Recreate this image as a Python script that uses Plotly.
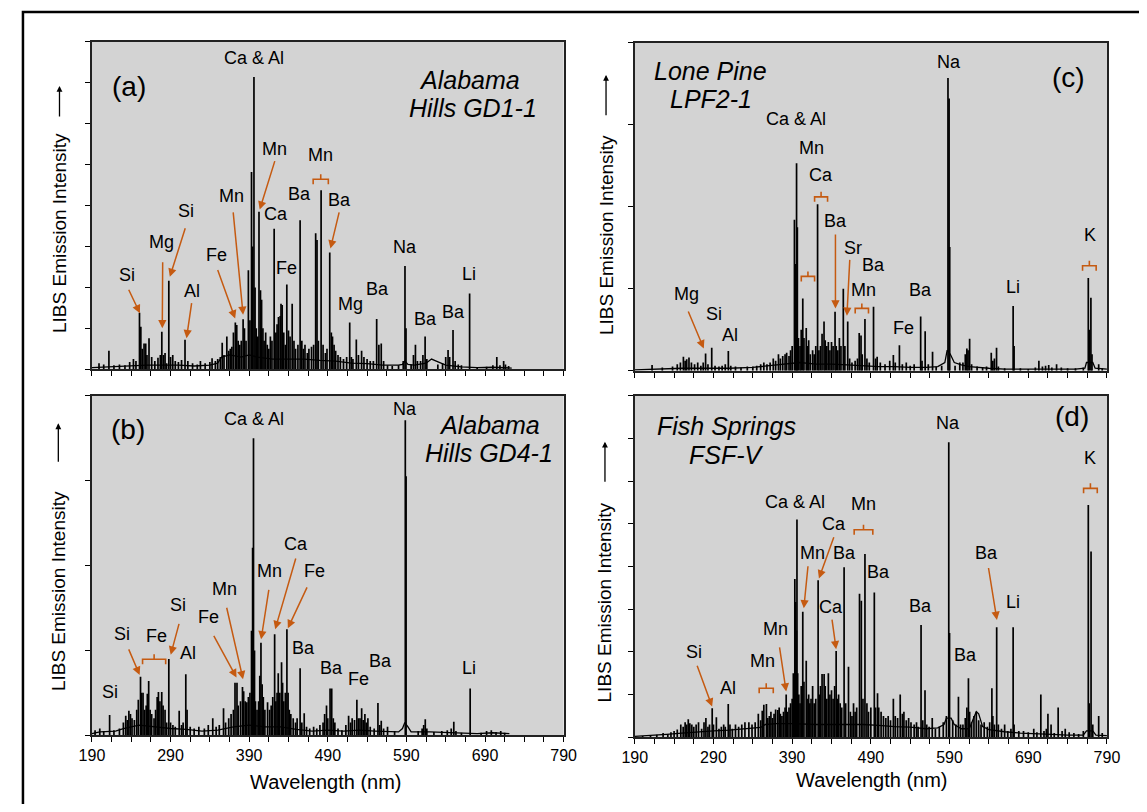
import plotly.graph_objects as go

FONT = "Liberation Sans, Arial, sans-serif"
ORANGE = "#c55a11"
VW, VH = 1147, 812          # browser window
OFF = 8                     # default body margin of the html page
W, H = VW - 2 * OFF, VH - 2 * OFF   # figure size so that the page never overflows the window

# ---------------- Panel (a) Alabama Hills GD1-1 ----------------
a_peaks = [(199, 0.15), (205, 0.12), (211.6, 0.45), (218, 0.1), (225, 0.12), (232, 0.1), (238, 0.18),
           (242.8, 0.25), (246, 0.2), (250.5, 1.38), (252.2, 1.04), (254, 0.5), (256.3, 0.63), (258.4, 0.63),
           (260, 0.35), (262.6, 0.76), (266, 0.3), (270, 0.2), (274, 0.28), (277, 0.35), (278.9, 0.92),
           (281, 0.35), (283, 0.4), (285, 0.15), (287.8, 2.16), (290, 0.3), (292.8, 0.35), (296, 0.2),
           (300, 0.18), (304, 0.23), (308.4, 0.72), (312, 0.2), (318, 0.15), (324, 0.12), (328, 0.2),
           (334, 0.15), (340, 0.18), (342.8, 0.27), (347, 0.2), (350, 0.25), (353.3, 0.3), (355.7, 0.65),
           (358, 0.35), (361.6, 0.8), (364, 0.45), (366, 0.5), (368, 0.55), (370, 0.9), (372.4, 1.14),
           (374.2, 1.08), (376, 0.7), (378, 0.6), (380, 0.7), (382.3, 1.22), (384, 1.0), (386, 0.7),
           (389, 2.42), (391, 1.2), (393, 4.82), (394.4, 3.0), (396.1, 7.14), (397.5, 2.0), (399, 1.0),
           (401, 0.8), (402.5, 3.85), (404.4, 1.93), (405.8, 1.7), (407.5, 1.0), (409, 0.7), (411, 0.9),
           (413, 0.6), (415, 0.5), (417, 0.8), (419, 0.7), (421.8, 3.43), (424, 0.9), (425.5, 1.1),
           (427.3, 1.28), (429.4, 1.3), (430.5, 1.6), (432, 1.57), (434, 0.9), (436, 0.6), (437.9, 2.07),
           (440, 0.95), (442, 0.8), (444.7, 1.6), (447, 0.7), (449, 0.5), (452, 0.6), (454.8, 3.64),
           (457, 0.7), (459, 0.5), (461, 0.6), (464, 0.4), (466, 0.5), (469.3, 0.55), (472, 0.6),
           (474.6, 3.32), (476.3, 3.16), (478, 0.7), (481.5, 4.37), (484, 0.6), (487, 0.4), (489, 0.5),
           (492.5, 2.85), (494.5, 0.9), (496, 0.8), (498, 0.6), (500, 0.45), (503, 0.35), (506, 0.3),
           (510, 0.25), (514, 0.3), (517.9, 1.14), (520, 0.3), (522, 0.25), (526.3, 0.73), (529, 0.35),
           (533, 0.45), (536, 0.3), (540, 0.25), (544, 0.2), (548, 0.2), (552.2, 1.23), (555, 0.6),
           (558, 0.63), (561, 0.2), (566, 0.1), (572, 0.08), (580, 0.1), (586, 0.2), (588.2, 2.52),
           (589.5, 1.0), (596, 0.12), (599, 0.35), (601.5, 0.6), (604, 0.2), (608, 0.2), (611, 0.35),
           (613.8, 0.8), (616, 0.25), (630, 0.12), (636, 0.15), (640, 0.3), (643, 0.47), (645, 0.3),
           (649.3, 0.96), (652, 0.2), (656, 0.12), (660, 0.1), (670.4, 1.85), (680, 0.05), (692, 0.06),
           (700, 0.1), (705, 0.3), (709, 0.1), (713.7, 0.2), (716, 0.12), (720, 0.08)]
a_base = [(190, 0.04), (200, 0.05), (220, 0.06), (240, 0.08), (260, 0.1), (280, 0.1), (300, 0.1),
          (320, 0.08), (340, 0.1), (350, 0.15), (355, 0.3), (365, 0.35), (380, 0.3), (390, 0.35),
          (400, 0.3), (420, 0.25), (440, 0.25), (460, 0.25), (480, 0.22), (500, 0.2), (520, 0.15),
          (540, 0.14), (560, 0.1), (580, 0.1), (585, 0.12), (588, 0.2), (592, 0.12), (600, 0.1),
          (615, 0.15), (622, 0.25), (628, 0.2), (640, 0.1), (660, 0.06), (680, 0.04), (700, 0.05),
          (720, 0.04), (724, 0.03)]
a_labels = [("Ca & Al", 396.6, 7.61), ("Mn", 422.7, 5.39), ("Mn", 480.6, 5.23), ("Ba", 454.4, 4.29),
            ("Ba", 505.3, 4.13), ("Ca", 424, 3.8), ("Fe", 437.9, 2.48), ("Mn", 368.1, 4.23),
            ("Fe", 347.9, 2.8), ("Si", 309.3, 3.87), ("Mg", 279, 3.11), ("Si", 234, 2.3),
            ("Al", 317.1, 1.92), ("Mg", 518.6, 1.59), ("Ba", 553.5, 1.95), ("Na", 588, 2.99),
            ("Ba", 613.7, 1.24), ("Ba", 649.5, 1.41), ("Li", 670.1, 2.33)]
a_arrows = [(403.4, 3.9, 423.2, 5.12), (493.4, 2.95, 504.9, 3.87), (382.3, 1.33, 369.5, 3.87),
            (372.2, 1.24, 349.3, 2.46), (289.1, 2.26, 309.3, 3.48), (279.5, 1.0, 280, 2.65),
            (251, 1.37, 235.9, 1.98), (310.3, 0.76, 317.1, 1.65)]
a_brackets = [(471.4, 490.7, 4.64)]
a_name = [("Alabama", 670.6, 7.07), ("Hills GD1-1", 674.7, 6.37)]
a_tag = ("(a)", 236.8, 6.91)

# ---------------- Panel (b) Alabama Hills GD4-1 ----------------
b_peaks = [(194, 0.06), (200, 0.08), (205, 0.05), (212.5, 0.24), (218, 0.06), (225, 0.08), (230, 0.15),
           (233, 0.23), (235, 0.18), (237, 0.29), (239, 0.25), (241, 0.2), (244, 0.18), (247, 0.3),
           (249, 0.42), (251.8, 0.69), (253, 0.5), (255, 0.5), (257, 0.3), (259, 0.35), (260.5, 0.49),
           (262.2, 0.64), (264, 0.3), (266, 0.25), (269, 0.2), (271, 0.3), (273, 0.45), (274.6, 0.51),
           (276.5, 0.4), (278.8, 0.51), (280.5, 0.35), (283, 0.3), (285, 0.15), (287.8, 0.9), (290, 0.15),
           (293, 0.12), (296, 0.1), (301, 0.29), (304, 0.12), (306, 0.15), (309.4, 0.72), (311, 0.3),
           (315, 0.1), (320, 0.08), (326, 0.1), (333, 0.08), (338, 0.12), (343.7, 0.2), (348, 0.1),
           (352, 0.12), (357.4, 0.32), (360, 0.15), (364, 0.2), (367, 0.25), (370, 0.3), (372, 0.62),
           (374.5, 0.62), (376, 0.35), (379, 0.4), (381.5, 0.57), (383, 0.52), (385, 0.4), (387, 0.39),
           (389, 0.45), (391, 0.5), (393, 1.23), (394.4, 2.21), (395.5, 3.5), (396.8, 1.0), (398, 0.4),
           (400, 0.3), (402, 0.4), (403.5, 0.7), (405, 1.09), (406.5, 0.6), (408, 0.45), (410, 0.3),
           (413.4, 0.39), (416, 0.3), (418, 0.35), (420, 0.45), (422.4, 1.19), (424, 0.4), (425.5, 0.5),
           (427, 0.73), (429, 0.5), (431.2, 0.86), (432.5, 0.62), (434, 0.4), (436, 0.5), (438, 1.25),
           (439.5, 0.5), (441, 0.3), (443, 0.25), (446, 0.2), (449, 0.15), (451, 0.2), (454.8, 0.79),
           (457, 0.15), (460, 0.26), (463, 0.1), (467, 0.08), (472, 0.1), (476, 0.08), (480, 0.12),
           (484, 0.15), (486, 0.25), (488.4, 0.35), (490, 0.2), (492.9, 0.55), (495, 0.55), (497, 0.2),
           (499, 0.15), (503, 0.08), (508, 0.06), (513, 0.12), (516.5, 0.23), (519, 0.15), (521, 0.2),
           (524, 0.18), (527, 0.42), (529, 0.2), (531, 0.2), (533.1, 0.32), (535, 0.18), (537.2, 0.25),
           (539, 0.15), (541, 0.2), (544, 0.1), (549, 0.08), (553.8, 0.38), (556, 0.12), (558, 0.17),
           (561, 0.08), (566, 0.1), (575, 0.05), (588.6, 3.71), (589.6, 3.05), (605, 0.05), (610, 0.08),
           (612, 0.12), (614, 0.19), (616, 0.08), (625, 0.04), (635, 0.05), (642, 0.06), (647, 0.08),
           (650.3, 0.16), (653, 0.05), (660, 0.03), (671.1, 0.55), (685, 0.03), (692, 0.05), (698, 0.06),
           (704, 0.04), (710, 0.05), (715, 0.03)]
b_base = [(190, 0.02), (200, 0.04), (220, 0.05), (230, 0.08), (250, 0.12), (270, 0.1), (290, 0.08),
          (310, 0.07), (330, 0.05), (350, 0.06), (370, 0.1), (390, 0.12), (410, 0.1), (430, 0.1),
          (450, 0.07), (470, 0.05), (490, 0.06), (510, 0.05), (530, 0.06), (550, 0.05), (570, 0.04),
          (580, 0.04), (585, 0.08), (588, 0.15), (592, 0.1), (596, 0.04), (620, 0.04), (650, 0.03),
          (680, 0.02), (700, 0.03), (721, 0.02)]
b_labels = [("Ca & Al", 396, 3.73), ("Na", 587.7, 3.84), ("Ca", 449.3, 2.25), ("Fe", 473.2, 1.93),
            ("Mn", 415.8, 1.93), ("Mn", 359.2, 1.72), ("Fe", 338, 1.39), ("Ba", 459, 1.03),
            ("Ba", 494.4, 0.79), ("Fe", 528.9, 0.66), ("Ba", 556.9, 0.88), ("Li", 669.1, 0.79),
            ("Si", 299.9, 1.53), ("Al", 312.8, 0.97), ("Si", 228.6, 1.19), ("Fe", 271.8, 1.17),
            ("Si", 213, 0.51)]
b_arrows = [(423.1, 1.25, 449.8, 2.1), (439.2, 1.26, 464.5, 1.76), (405.2, 1.13, 415.3, 1.73),
            (382.2, 0.66, 361, 1.52), (373.9, 0.68, 344, 1.19), (290.2, 0.95, 301.3, 1.33),
            (250.7, 0.71, 236, 1.03)]
b_brackets = [(254.4, 283.8, 0.895)]
b_name = [("Alabama", 696.2, 3.66), ("Hills GD4-1", 695.3, 3.33)]
b_tag = ("(b)", 236, 3.6)

# ---------------- Panel (c) Lone Pine LPF2-1 ----------------
c_peaks = [(212, 0.07), (225, 0.04), (238, 0.05), (244, 0.08), (248, 0.1), (251.8, 0.17), (254, 0.12),
           (256, 0.14), (258.9, 0.16), (262, 0.1), (266, 0.08), (270, 0.1), (274, 0.06), (277, 0.1),
           (280, 0.21), (283, 0.08), (287.8, 0.28), (292, 0.06), (297, 0.05), (301, 0.06), (305, 0.08),
           (308.9, 0.24), (312, 0.06), (318, 0.05), (325, 0.04), (333, 0.05), (340, 0.05), (345, 0.06),
           (350, 0.08), (354, 0.1), (358, 0.08), (362, 0.1), (366, 0.15), (369, 0.12), (372.6, 0.2),
           (375, 0.15), (378, 0.18), (381, 0.2), (383, 0.22), (386, 0.18), (388, 0.25), (390, 0.3),
           (392.9, 1.84), (394.4, 1.3), (395.6, 2.53), (396.6, 1.75), (398, 0.4), (400, 0.3), (401.5, 0.5),
           (403.5, 0.88), (405, 0.4), (407.9, 0.52), (409.5, 0.3), (411, 0.37), (413, 0.2), (416, 0.25),
           (418, 0.2), (420, 0.3), (422.3, 2.03), (424, 0.25), (426, 0.3), (428, 0.45), (430.5, 0.6),
           (432, 0.37), (434, 0.3), (436, 0.35), (438, 0.25), (440, 0.35), (442, 0.3), (444.5, 0.72),
           (446, 0.3), (448, 0.25), (450, 0.4), (452, 0.3), (455, 1.0), (457, 0.3), (460.6, 0.6),
           (463, 0.15), (466, 0.1), (470, 0.12), (473, 0.15), (475.2, 0.46), (477.5, 0.43), (479, 0.2),
           (482.5, 0.63), (485, 0.15), (488, 0.1), (493.4, 0.78), (496, 0.15), (498, 0.17), (502, 0.1),
           (508, 0.08), (514, 0.12), (518.6, 0.19), (521, 0.1), (526.3, 0.31), (530, 0.08), (535, 0.1),
           (540, 0.06), (545, 0.08), (553.3, 0.66), (555, 0.12), (559, 0.48), (563, 0.08), (568.4, 0.23),
           (573, 0.05), (580, 0.06), (588, 3.57), (589.4, 3.32), (590.2, 1.51), (597, 0.06), (603, 0.1),
           (607, 0.1), (610, 0.2), (612, 0.27), (613.5, 0.25), (615.5, 0.39), (618, 0.08), (625, 0.05),
           (632, 0.04), (637, 0.05), (643, 0.22), (645, 0.12), (647, 0.15), (649.7, 0.28), (652, 0.05),
           (660, 0.03), (670.8, 0.79), (672, 0.3), (680, 0.03), (690, 0.02), (699, 0.04), (703.5, 0.12),
           (708, 0.05), (712, 0.06), (716, 0.07), (720, 0.04), (726, 0.08), (732, 0.04), (740, 0.03),
           (750, 0.03), (760, 0.04), (766.3, 1.13), (767.5, 0.5), (769.6, 0.89), (771, 0.2),
           (779.5, 0.08), (784, 0.03)]
c_base = [(190, 0.01), (220, 0.02), (250, 0.03), (280, 0.03), (310, 0.03), (340, 0.04), (360, 0.06),
          (380, 0.08), (400, 0.1), (420, 0.08), (440, 0.08), (460, 0.07), (480, 0.06), (500, 0.05),
          (520, 0.05), (540, 0.04), (560, 0.04), (575, 0.05), (584, 0.1), (587, 0.25), (591, 0.2),
          (596, 0.1), (605, 0.07), (615, 0.05), (640, 0.03), (660, 0.02), (680, 0.02), (700, 0.02),
          (720, 0.02), (750, 0.02), (762, 0.03), (764, 0.1), (772, 0.1), (775, 0.03), (790, 0.02)]
c_labels = [("Na", 589.9, 3.76), ("Ca & Al", 394.7, 3.07), ("Mn", 414.8, 2.72), ("Ca", 426.7, 2.39),
            ("Ba", 445, 1.82), ("Sr", 467.4, 1.5), ("Ba", 493.9, 1.29), ("Mn", 480.2, 0.98),
            ("Fe", 530.9, 0.52), ("Ba", 553.3, 0.99), ("Li", 670.8, 1.02), ("K", 768.1, 1.65),
            ("Mg", 256.3, 0.94), ("Si", 290.5, 0.69), ("Al", 311.6, 0.43)]
c_arrows = [(445, 0.76, 445, 1.68), (459.6, 0.67, 463.3, 1.37), (277.7, 0.27, 257.2, 0.74)]
c_brackets = [(418.5, 435, 2.12), (401.6, 418.5, 1.15), (470.1, 487, 0.76), (759, 776.3, 1.28)]
c_name = [("Lone Pine", 286.4, 3.65), ("LPF2-1", 286.9, 3.31)]
c_tag = ("(c)", 740.7, 3.58)

# ---------------- Panel (d) Fish Springs FSF-V ----------------
d_peaks = [(200, 0.03), (210, 0.05), (218, 0.06), (226, 0.1), (232, 0.08), (236, 0.12), (240, 0.15),
           (244, 0.18), (248.5, 0.3), (251.5, 0.25), (254, 0.35), (256, 0.3), (258, 0.42), (260, 0.33),
           (262.5, 0.3), (265, 0.25), (268, 0.3), (271, 0.35), (275, 0.2), (278, 0.35), (280.4, 0.45),
           (283, 0.25), (285, 0.3), (288.4, 0.68), (290, 0.3), (293.7, 0.47), (297, 0.2), (300, 0.25),
           (303, 0.3), (305, 0.25), (308.8, 0.78), (311, 0.3), (314, 0.2), (318, 0.3), (322, 0.25),
           (326, 0.3), (330, 0.35), (335, 0.35), (339, 0.3), (343, 0.35), (347, 0.55), (350, 0.4),
           (352, 0.62), (354, 0.76), (357.3, 0.78), (359, 0.45), (361, 0.5), (363, 0.6), (365, 0.45),
           (367, 0.55), (369, 0.65), (371.8, 0.64), (373.5, 0.7), (375, 0.55), (377, 0.5), (379, 0.6),
           (381, 0.7), (382.4, 1.0), (384, 0.6), (386, 0.7), (388, 0.8), (390, 0.9), (391.5, 1.5),
           (393.4, 3.71), (394.4, 3.17), (395.5, 2.5), (396.1, 5.1), (397, 1.5), (398.5, 1.0), (400, 0.8),
           (401.5, 1.2), (403.5, 2.94), (405, 1.3), (407.9, 1.79), (409, 0.9), (411, 1.0), (412.5, 0.8),
           (414, 0.9), (416, 1.2), (418, 0.8), (420, 0.9), (423, 3.68), (424.5, 1.0), (426, 1.2),
           (428, 1.48), (430.6, 1.48), (432, 1.2), (434, 0.9), (436, 1.5), (438, 1.0), (440, 1.1),
           (442, 0.9), (444, 1.2), (445.9, 2.02), (447.5, 0.9), (449, 1.0), (451, 0.8), (453, 0.7),
           (456, 3.98), (458, 0.8), (461.6, 1.65), (464, 0.6), (466, 0.5), (468, 0.8), (470, 0.6),
           (472, 0.7), (475.6, 3.36), (477.9, 3.2), (480, 0.9), (482.5, 4.29), (485, 0.8), (487, 0.6),
           (490, 0.7), (494.4, 3.39), (496, 0.7), (498.5, 1.03), (500, 0.7), (503, 0.6), (506, 0.5),
           (509, 0.45), (512, 0.5), (515, 0.4), (518.6, 0.9), (521, 0.5), (524, 0.45), (527.3, 1.0),
           (530, 0.55), (532, 0.6), (535, 0.4), (538, 0.45), (541, 0.35), (545, 0.3), (548, 0.35),
           (550, 0.25), (553.8, 2.63), (556, 0.4), (558.8, 1.1), (561, 0.3), (564, 0.25), (568, 0.45),
           (572, 0.2), (577, 0.25), (582, 0.35), (586, 0.5), (589, 6.91), (590, 2.44), (594, 0.4),
           (598, 0.3), (601.3, 0.95), (604, 0.3), (607, 0.3), (610, 0.45), (612, 0.7), (614, 1.38),
           (615.5, 0.6), (618, 0.35), (621, 0.5), (624, 0.6), (627, 0.4), (630, 0.3), (634, 0.35),
           (638, 0.25), (641, 0.35), (643.8, 1.15), (645, 0.5), (647, 0.3), (649.9, 2.58), (652, 0.3),
           (656, 0.2), (660, 0.3), (664, 0.15), (668, 0.2), (670.8, 2.58), (672, 0.3), (678, 0.15),
           (684, 0.15), (690, 0.12), (697, 0.2), (701, 0.12), (706, 1.0), (710, 0.15), (713, 0.2),
           (715, 0.55), (719, 0.3), (723, 0.1), (728, 0.7), (733, 0.15), (737, 0.2), (742, 0.12),
           (748, 0.1), (754, 0.08), (760, 0.15), (766.3, 5.44), (767.5, 0.8), (769.8, 4.35), (772, 0.3),
           (779.5, 0.5), (784, 0.1)]
d_base = [(190, 0.02), (210, 0.04), (230, 0.07), (250, 0.1), (270, 0.13), (290, 0.15), (310, 0.17),
          (330, 0.2), (350, 0.23), (356, 0.3), (370, 0.32), (390, 0.32), (420, 0.3), (450, 0.3),
          (480, 0.3), (500, 0.28), (520, 0.25), (540, 0.24), (560, 0.2), (575, 0.22), (583, 0.3),
          (586, 0.45), (592, 0.45), (596, 0.3), (605, 0.2), (615, 0.2), (620, 0.45), (624, 0.6),
          (627, 0.55), (632, 0.25), (640, 0.18), (660, 0.13), (680, 0.1), (700, 0.09), (720, 0.07),
          (740, 0.05), (760, 0.05), (764, 0.15), (772, 0.15), (776, 0.05), (790, 0.04)]
d_labels = [("Na", 588.5, 7.37), ("K", 768.1, 6.53), ("Ca & Al", 393.4, 5.52), ("Mn", 480.2, 5.46),
            ("Ca", 443.6, 5.0), ("Mn", 416.2, 4.31), ("Ba", 456.4, 4.31), ("Ba", 499.8, 3.86),
            ("Ca", 439.1, 3.06), ("Mn", 368.7, 2.54), ("Mn", 352.7, 1.79), ("Si", 265.9, 2.0),
            ("Al", 308.8, 1.15), ("Ba", 553.3, 3.08), ("Ba", 610.9, 1.93), ("Ba", 636.9, 4.32),
            ("Li", 671.2, 3.18)]
d_arrows = [(424, 3.72, 443.6, 4.72), (404.8, 3.02, 410.3, 4.04), (445.9, 2.06, 440.4, 2.79),
            (382.4, 1.07, 373.7, 2.14), (288.3, 0.72, 268.6, 1.71), (650.2, 2.75, 639.2, 4.0)]
d_brackets = [(760.3, 777.7, 5.83), (468.8, 492.5, 4.86), (348.1, 366, 1.15)]
d_name = [("Fish Springs", 306.5, 7.29), ("FSF-V", 306.5, 6.61)]
d_tag = ("(d)", 745.3, 7.51)

x_ticks_major = [190, 290, 390, 490, 590, 690, 790]


def px(x):
    return (x - OFF) / W


def py(y):
    return 1 - (y - OFF) / H


# window-pixel boxes of the four plot areas
panels = [
    ("", a_peaks, a_base, a_labels, a_arrows, a_brackets, a_name, a_tag, 8, (80.6, 563.4, 41.7, 369.3), False),
    ("2", b_peaks, b_base, b_labels, b_arrows, b_brackets, b_name, b_tag, 4, (80.6, 563.4, 395.7, 735.3), True),
    ("3", c_peaks, c_base, c_labels, c_arrows, c_brackets, c_name, c_tag, 4, (636.2, 1119.5, 42.7, 370.7), False),
    ("4", d_peaks, d_base, d_labels, d_arrows, d_brackets, d_name, d_tag, 8, (636.2, 1119.5, 395.7, 737.3), True),
]

fig = go.Figure()
annotations = []
shapes = []
layout_axes = {}

for key, peaks, base, labels, arrows, brackets, name, tag, ymax, box, showx in panels:
    xr, yr = "x" + key, "y" + key
    x0, x1, yt, yb = box
    ppu = (yb - yt) / ymax

    sx, sy = [], []
    for w, h in peaks:
        sx += [w, w, None]
        sy += [0, h, None]
    fig.add_trace(go.Scatter(x=sx, y=sy, mode="lines", xaxis=xr, yaxis=yr,
                             line=dict(color="black", width=1.7), showlegend=False, hoverinfo="skip"))
    fig.add_trace(go.Scatter(x=[p[0] for p in base], y=[p[1] for p in base], mode="lines",
                             xaxis=xr, yaxis=yr, line=dict(color="black", width=1.3),
                             showlegend=False, hoverinfo="skip"))

    layout_axes["xaxis" + key] = dict(
        domain=[px(x0), px(x1)], anchor=yr, range=[190, 790], tickmode="array", tickvals=x_ticks_major,
        ticktext=[str(v) for v in x_ticks_major], ticks="outside", ticklen=5, tickwidth=1, tickcolor="black",
        minor=dict(dtick=25, tick0=190, ticks="outside", ticklen=5, tickwidth=1, tickcolor="black"),
        showline=True, linecolor="#222", linewidth=1.6, mirror=True, showgrid=False, zeroline=False,
        showticklabels=showx, tickfont=dict(family=FONT, size=16, color="black"))
    layout_axes["yaxis" + key] = dict(
        domain=[py(yb), py(yt)], anchor=xr, range=[0, ymax], dtick=1, tick0=0,
        ticks="outside", ticklen=5, tickwidth=1, tickcolor="black", showline=True, linecolor="#222",
        linewidth=1.6, mirror=True, showgrid=False, zeroline=False, showticklabels=False)

    for txt, x, y in labels:
        annotations.append(dict(text=txt, x=x, y=y, xref=xr, yref=yr, showarrow=False,
                                xanchor="center", yanchor="middle",
                                font=dict(family=FONT, size=18, color="black")))
    for hx, hy, tx, ty in arrows:
        annotations.append(dict(text="", x=hx, y=hy, ax=tx, ay=ty, xref=xr, yref=yr, axref=xr, ayref=yr,
                                showarrow=True, arrowhead=2, arrowsize=1.1, arrowwidth=1.5,
                                arrowcolor=ORANGE, standoff=0, startstandoff=0))
    d = 5 / ppu
    for bx0, bx1, by in brackets:
        xm = (bx0 + bx1) / 2
        shapes.append(dict(type="path", xref=xr, yref=yr,
                           path=f"M{bx0},{by - d} L{bx0},{by} L{bx1},{by} L{bx1},{by - d} M{xm},{by} L{xm},{by + d}",
                           line=dict(color=ORANGE, width=1.6)))
    for txt, x, y in name:
        annotations.append(dict(text="<i>" + txt + "</i>", x=x, y=y, xref=xr, yref=yr, showarrow=False,
                                xanchor="center", yanchor="middle",
                                font=dict(family=FONT, size=25, color="black")))
    annotations.append(dict(text=tag[0], x=tag[1], y=tag[2], xref=xr, yref=yr, showarrow=False,
                            xanchor="center", yanchor="middle",
                            font=dict(family=FONT, size=28, color="black")))

# y-axis titles with arrows (window pixel positions)
ytitles = [(47.4, 232.5, 86, 118), (46.2, 590.8, 423.3, 463.3), (606.8, 235, 75, 116.7), (605.7, 602.5, 441.7, 483.3)]
for xp, yc, yh, ytail in ytitles:
    annotations.append(dict(text="LIBS Emission Intensity", x=px(xp), y=py(yc), xref="paper", yref="paper",
                            xanchor="center", yanchor="middle", showarrow=False, textangle=-90,
                            font=dict(family=FONT, size=19, color="black")))
    annotations.append(dict(text="", x=px(xp), y=py(yh), xref="paper", yref="paper", showarrow=True,
                            ax=0, ay=ytail - yh, arrowhead=2, arrowsize=0.9, arrowwidth=1.3, arrowcolor="black",
                            standoff=0, startstandoff=0))
for xp, yp in [(320.6, 782), (879, 779.5)]:
    annotations.append(dict(text="Wavelength (nm)", x=px(xp), y=py(yp), xref="paper", yref="paper",
                            xanchor="center", yanchor="middle", showarrow=False,
                            font=dict(family=FONT, size=20, color="black")))

# outer frame
shapes.append(dict(type="rect", xref="paper", yref="paper", x0=px(10), x1=1.03, y0=-0.03, y1=py(12),
                   line=dict(color="black", width=2.5)))

fig.update_layout(width=W, height=H, margin=dict(l=0, r=0, t=0, b=0), paper_bgcolor="white",
                  plot_bgcolor="#d3d3d3", annotations=annotations, shapes=shapes, **layout_axes)

fig.write_html("out.html")
